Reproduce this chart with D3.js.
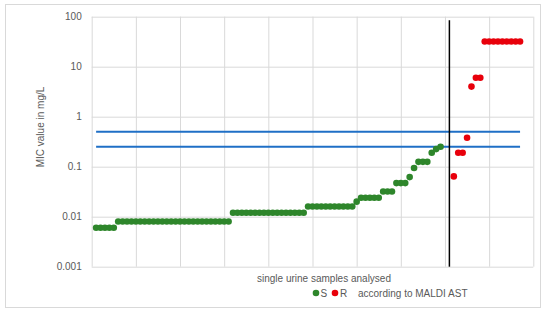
<!DOCTYPE html>
<html>
<head>
<meta charset="utf-8">
<script src="https://cdn.jsdelivr.net/npm/d3@7"></script>
<style>
    body { margin: 0; background: #fff; }
    text { font-family: "Liberation Sans", Arial, sans-serif; fill: #595959; }
</style>
</head>
<body>
<div id="chart"></div>
<script>
// samples, sample number -> MIC (mg/L)
const susceptibleX = [
    1, 2, 3, 4, 5, 6, 7, 8, 9, 10, 11, 12, 13, 14, 15, 16, 17, 18, 19, 20,
    21, 22, 23, 24, 25, 26, 27, 28, 29, 30, 31, 32, 33, 34, 35, 36, 37, 38, 39, 40,
    41, 42, 43, 44, 45, 46, 47, 48, 49, 50, 51, 52, 53, 54, 55, 56, 57, 58, 59, 60,
    61, 62, 63, 64, 65, 66, 67, 68, 69, 70, 71, 72, 73, 74, 75, 76, 77, 78, 79
];
const susceptibleMic = [
    0.006, 0.006, 0.006, 0.006, 0.006,
    0.008, 0.008, 0.008, 0.008, 0.008, 0.008, 0.008, 0.008, 0.008, 0.008, 0.008, 0.008, 0.008,
    0.008, 0.008, 0.008, 0.008, 0.008, 0.008, 0.008, 0.008, 0.008, 0.008, 0.008, 0.008, 0.008,
    0.012, 0.012, 0.012, 0.012, 0.012, 0.012, 0.012, 0.012, 0.012, 0.012, 0.012, 0.012, 0.012,
    0.012, 0.012, 0.012, 0.012,
    0.016, 0.016, 0.016, 0.016, 0.016, 0.016, 0.016, 0.016, 0.016, 0.016, 0.016,
    0.02,
    0.024, 0.024, 0.024, 0.024, 0.024,
    0.032, 0.032, 0.032,
    0.047, 0.047, 0.047,
    0.062, 0.094,
    0.125, 0.125, 0.125,
    0.19, 0.225, 0.25
];
const resistantX = [82, 83, 84, 85, 86, 87, 88, 89, 90, 91, 92, 93, 94, 95, 96, 97];
const resistantMic = [0.064, 0.19, 0.19, 0.38, 4, 6, 6, 32, 32, 32, 32, 32, 32, 32, 32, 32];

const breakpoints = [0.25, 0.5];
const breakpointSpan = [1, 97];
const separator = {x: 81, y0: 0.001, y1: 85};

const yTicks = [0.001, 0.01, 0.1, 1, 10, 100];
const xTicks = [0, 10, 20, 30, 40, 50, 60, 70, 80, 90, 100];

const width = 550, height = 312;
const plot = {left: 91.7, right: 533.3, top: 16.7, bottom: 266.7};

const svg = d3.select("#chart").append("svg").attr("width", width).attr("height", height);

svg.append("rect").attr("x", 5.5).attr("y", 4.5).attr("width", 535).attr("height", 303)
    .attr("fill", "#fff").attr("stroke", "#d9d9d9");

const x = d3.scaleLinear().domain([0, 100]).range([plot.left, plot.right]);
const y = d3.scaleLog().domain([0.001, 100]).range([plot.bottom, plot.top]);

// grid
const gy = svg.append("g").attr("transform", `translate(${plot.left},0)`)
    .call(d3.axisLeft(y).tickValues(yTicks).tickSize(-(plot.right - plot.left)).tickPadding(10)
        .tickFormat(d => d >= 1 ? d3.format("d")(d) : String(d)));
gy.select(".domain").remove();
gy.selectAll("line").attr("stroke", "#d9d9d9");
gy.selectAll("text").attr("font-size", 10).attr("fill", "#595959")
    .style("font-family", '"Liberation Sans", Arial, sans-serif');

const gx = svg.append("g").attr("transform", `translate(0,${plot.bottom})`)
    .call(d3.axisBottom(x).tickValues(xTicks).tickSize(-(plot.bottom - plot.top)).tickFormat(""));
gx.select(".domain").remove();
gx.selectAll("line").attr("stroke", "#d9d9d9");

// breakpoint lines
svg.selectAll(".bp").data(breakpoints).enter().append("line")
    .attr("x1", x(breakpointSpan[0])).attr("x2", x(breakpointSpan[1]))
    .attr("y1", d => y(d)).attr("y2", d => y(d))
    .attr("stroke", "#1f6fc6").attr("stroke-width", 2);

// S/R separator
svg.append("line")
    .attr("x1", x(separator.x)).attr("x2", x(separator.x))
    .attr("y1", y(separator.y0)).attr("y2", y(separator.y1))
    .attr("stroke", "#000").attr("stroke-width", 1.5);

const r = 3.3;
svg.append("g").selectAll("circle").data(susceptibleX).enter().append("circle")
    .attr("cx", d => x(d)).attr("cy", (d, i) => y(susceptibleMic[i])).attr("r", r)
    .attr("fill", "#2e862b");
svg.append("g").selectAll("circle").data(resistantX).enter().append("circle")
    .attr("cx", d => x(d)).attr("cy", (d, i) => y(resistantMic[i])).attr("r", r)
    .attr("fill", "#e8000b");

// titles
svg.append("text").attr("x", 324).attr("y", 282).attr("text-anchor", "middle")
    .attr("font-size", 10).text("single urine samples analysed");
svg.append("text").attr("transform", "translate(44,127) rotate(-90)").attr("text-anchor", "middle")
    .attr("font-size", 10).text("MIC value in mg/L");

// legend
const legend = svg.append("g").attr("transform", "translate(0,293)");
legend.append("circle").attr("cx", 316).attr("cy", 0).attr("r", 3.3).attr("fill", "#2e862b");
legend.append("text").attr("x", 320.5).attr("y", 3.6).attr("font-size", 10).text("S");
legend.append("circle").attr("cx", 335).attr("cy", 0).attr("r", 3.3).attr("fill", "#e8000b");
legend.append("text").attr("x", 340).attr("y", 3.6).attr("font-size", 10).text("R");
legend.append("text").attr("x", 358).attr("y", 3.6).attr("font-size", 10).text("according to MALDI AST");
</script>
</body>
</html>
